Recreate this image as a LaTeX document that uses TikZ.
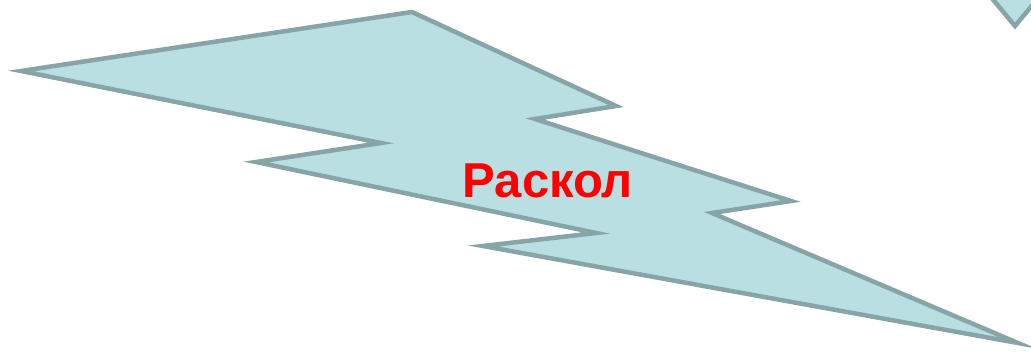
\documentclass[tikz,border=0pt]{standalone}
\usepackage{fontspec}
\setmainfont{Liberation Sans}
\definecolor{boltfill}{HTML}{B9DFE2}
\definecolor{boltline}{HTML}{87A4A6}
\definecolor{boltred}{HTML}{FF0000}
\tikzset{
  bolt/.style={fill=boltfill, draw=boltline, line width=4.5pt, line join=miter, miter limit=20},
  label/.style={text=boltred, font=\bfseries\fontsize{49}{49}\selectfont, inner sep=0pt}
}
\begin{document}
\begin{tikzpicture}[x=1pt,y=-1pt]
\useasboundingbox (0,0) rectangle (1031,358);
\begin{scope}
\clip (0,0) rectangle (1031,358);
\draw[bolt] (21,71) -- (412,12) -- (616,106) -- (535,119) -- (791,201) -- (712,213) -- (1018,343) -- (483,246) -- (596,233) -- (256,162) -- (381,143) -- cycle;
\draw[bolt] (985,-10) -- (1015,26) -- (1045,-10) -- cycle;
\end{scope}
\node[label, anchor=base] (t) at (548,198) {Раскол};
\end{tikzpicture}
\end{document}
